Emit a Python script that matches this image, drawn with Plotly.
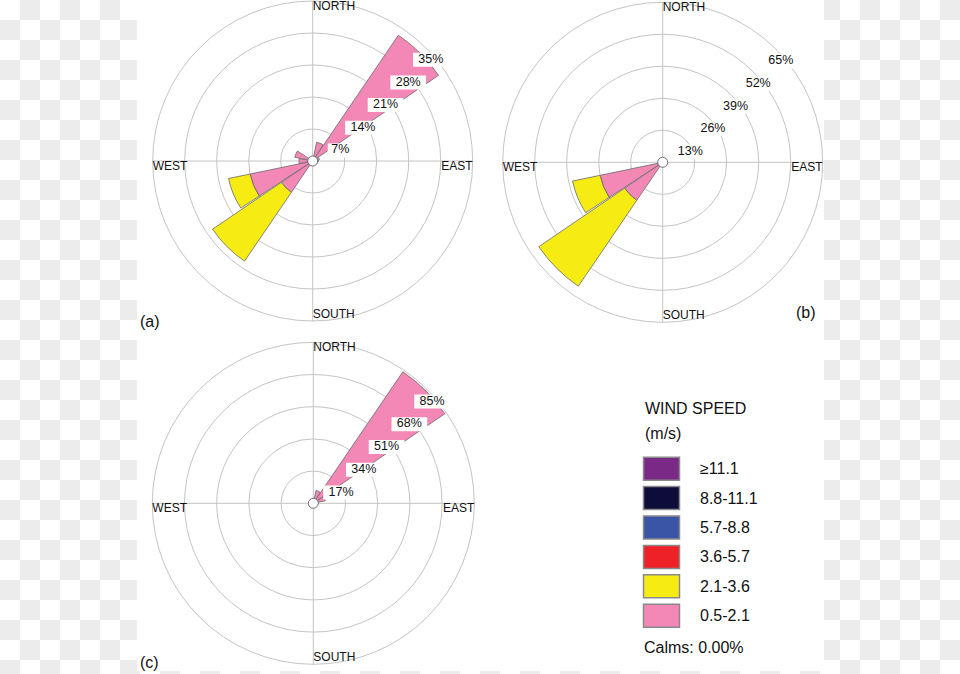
import math
import plotly.graph_objects as go

# ---------------- data ----------------
directions = ["N", "NNE", "NE", "ENE", "E", "ESE", "SE", "SSE",
              "S", "SSW", "SW", "WSW", "W", "WNW", "NW", "NNW"]
dir_deg = [0, 22.5, 45, 67.5, 90, 112.5, 135, 157.5,
           180, 202.5, 225, 247.5, 270, 292.5, 315, 337.5]

speed_bins = ["0.5-2.1", "2.1-3.6", "3.6-5.7", "5.7-8.8", "8.8-11.1", "≥11.1"]
bin_colors = ["#f387b6", "#f6ec14", "#ee2127", "#3a55a6", "#0e0d3a", "#7a2a86"]

# panel (a)
a_05_21 = [0, 4.2, 33.3, 1.5, 1.2, 0, 0, 0, 0, 0, 8.3, 14.0, 3.0, 4.0, 0, 0]
a_21_36 = [0, 0, 0, 0, 0, 0, 0, 0, 0, 0, 18.2, 4.8, 0, 0, 0, 0]
# panel (b)
b_05_21 = [0, 0, 0, 0, 0, 0, 0, 0, 0, 0, 18.7, 26.0, 0, 0, 0, 0]
b_21_36 = [0, 0, 0, 0, 0, 0, 0, 0, 0, 0, 42.2, 11.4, 0, 0, 0, 0]
# panel (c)
c_05_21 = [0, 6.9, 84.0, 6.5, 0, 0, 0, 0, 0, 0, 0, 0, 0, 0, 0, 0]
c_21_36 = [0] * 16
zeros = [0] * 16

panels = [
    {"name": "(a)", "series": [a_05_21, a_21_36, zeros, zeros, zeros, zeros],
     "ticks": [7, 14, 21, 28, 35]},
    {"name": "(b)", "series": [b_05_21, b_21_36, zeros, zeros, zeros, zeros],
     "ticks": [13, 26, 39, 52, 65]},
    {"name": "(c)", "series": [c_05_21, c_21_36, zeros, zeros, zeros, zeros],
     "ticks": [17, 34, 51, 68, 85]},
]
compass_labels = ["NORTH", "EAST", "SOUTH", "WEST"]
compass_deg = [0, 90, 180, 270]
calms_text = "Calms: 0.00%"

# ---------------- layout helpers ----------------
W, H = 960, 674
FONT = "Arial, Liberation Sans, sans-serif"
# (cx, cy, radius) in pixels, y from top
geom = [(312.7, 161.0, 160.0), (662.7, 162.3, 160.0), (313.3, 503.3, 161.0)]

fig = go.Figure()

# checkerboard background outside the white panel
shapes = []
sq = 20
for i in range(W // sq + 1):
    for j in range(H // sq + 1):
        if (i + j) % 2 == 1:
            shapes.append(dict(type="rect", xref="paper", yref="paper",
                               x0=i * sq / W, x1=min((i + 1) * sq, W) / W,
                               y0=1 - min((j + 1) * sq, H) / H, y1=1 - j * sq / H,
                               fillcolor="#ececec", line=dict(width=0), layer="below"))
shapes.append(dict(type="rect", xref="paper", yref="paper",
                   x0=137 / W, x1=824 / W, y0=1 - 671 / H, y1=1,
                   fillcolor="white", line=dict(width=0), layer="below"))

for k, p in enumerate(panels):
    pid = "polar" if k == 0 else f"polar{k + 1}"
    sub = pid
    cx, cy, R = geom[k]
    rmax = p["ticks"][-1]
    for s, vals in enumerate(p["series"]):
        fig.add_trace(go.Barpolar(
            r=vals, theta=dir_deg, width=[21.5] * 16, subplot=sub,
            marker=dict(color=bin_colors[s], line=dict(color="#6a6a6a", width=0.8)),
            name=speed_bins[s], showlegend=False, hoverinfo="skip"))
    # tick labels with white boxes
    lr, lt, txt, sizes = [], [], [], []
    for v in p["ticks"]:
        rp = v / rmax * R
        x = rp * math.sin(math.radians(45)) + 5
        y = -rp * math.cos(math.radians(45)) + 12
        lr.append(math.hypot(x, y) / R * rmax)
        lt.append(math.degrees(math.atan2(x, -y)))
        t = f"{v}%"
        txt.append(t)
        sizes.append(7.5 * len(t) + 3)
    fig.add_trace(go.Scatterpolar(
        r=lr, theta=lt, mode="markers+text", text=txt, textposition="middle center",
        marker=dict(symbol="line-ew", size=sizes, color="white", opacity=1,
                    line=dict(color="white", width=14)),
        textfont=dict(family=FONT, size=12.5, color="#111"),
        subplot=sub, showlegend=False, hoverinfo="skip", cliponaxis=False))
    # compass labels
    fig.add_trace(go.Scatterpolar(
        r=[rmax] * 4, theta=compass_deg, mode="text", text=compass_labels,
        textposition=["bottom right", "bottom left", "top right", "bottom right"],
        textfont=dict(family=FONT, size=12, color="#111"),
        subplot=sub, showlegend=False, hoverinfo="skip", cliponaxis=False))
    # centre circle
    fig.add_trace(go.Scatterpolar(
        r=[0], theta=[0], mode="markers",
        marker=dict(symbol="circle", size=10, color="white", opacity=1,
                    line=dict(color="#707070", width=1)),
        subplot=sub, showlegend=False, hoverinfo="skip", cliponaxis=False))

    polar = dict(
        domain=dict(x=[(cx - R) / W, (cx + R) / W],
                    y=[1 - (cy + R) / H, 1 - (cy - R) / H]),
        bgcolor="rgba(0,0,0,0)",
        barmode="stack",
        radialaxis=dict(range=[0, rmax], tickvals=p["ticks"], showticklabels=False,
                        ticks="", showline=False, gridcolor="#c4c4c4", gridwidth=1,
                        layer="below traces"),
        angularaxis=dict(direction="clockwise", rotation=90, tickvals=[0, 90, 180, 270],
                         showticklabels=False, ticks="", showline=True,
                         linecolor="#c4c4c4", linewidth=1, gridcolor="#c4c4c4",
                         layer="below traces"),
    )
    fig.update_layout(**{pid: polar})

annotations = []
letter_pos = [(138, 321, "left"), (818, 312, "right"), (138, 662, "left")]
for k, p in enumerate(panels):
    x, y, anc = letter_pos[k]
    annotations.append(dict(text=p["name"], xref="paper", yref="paper", x=x / W, y=1 - y / H,
                            xanchor=anc, yanchor="middle", showarrow=False,
                            font=dict(family=FONT, size=16, color="#111")))

# custom legend
annotations.append(dict(text="WIND SPEED", xref="paper", yref="paper", x=643 / W, y=1 - 408 / H,
                        xanchor="left", yanchor="middle", showarrow=False,
                        font=dict(family=FONT, size=16, color="#111")))
annotations.append(dict(text="(m/s)", xref="paper", yref="paper", x=643 / W, y=1 - 433 / H,
                        xanchor="left", yanchor="middle", showarrow=False,
                        font=dict(family=FONT, size=16, color="#111")))
legend_order = list(range(len(speed_bins)))[::-1]
for n, s in enumerate(legend_order):
    yc = 468.7 + n * 29.4
    shapes.append(dict(type="rect", xref="paper", yref="paper",
                       x0=643.5 / W, x1=679.5 / W, y0=1 - (yc + 11.5) / H, y1=1 - (yc - 11.5) / H,
                       fillcolor=bin_colors[s], line=dict(color="#8a8a8a", width=1.5)))
    annotations.append(dict(text=speed_bins[s], xref="paper", yref="paper", x=698 / W,
                            y=1 - yc / H, xanchor="left", yanchor="middle", showarrow=False,
                            font=dict(family=FONT, size=16, color="#111")))
annotations.append(dict(text=calms_text, xref="paper", yref="paper", x=642 / W, y=1 - 647 / H,
                        xanchor="left", yanchor="middle", showarrow=False,
                        font=dict(family=FONT, size=16, color="#111")))

fig.update_layout(width=W, height=H, margin=dict(l=0, r=0, t=0, b=0),
                  paper_bgcolor="white", plot_bgcolor="white",
                  shapes=shapes, annotations=annotations, showlegend=False)
fig.write_html("out.html", config={"displayModeBar": False},
               post_script="document.body.style.margin='0';document.body.style.padding='0';")
